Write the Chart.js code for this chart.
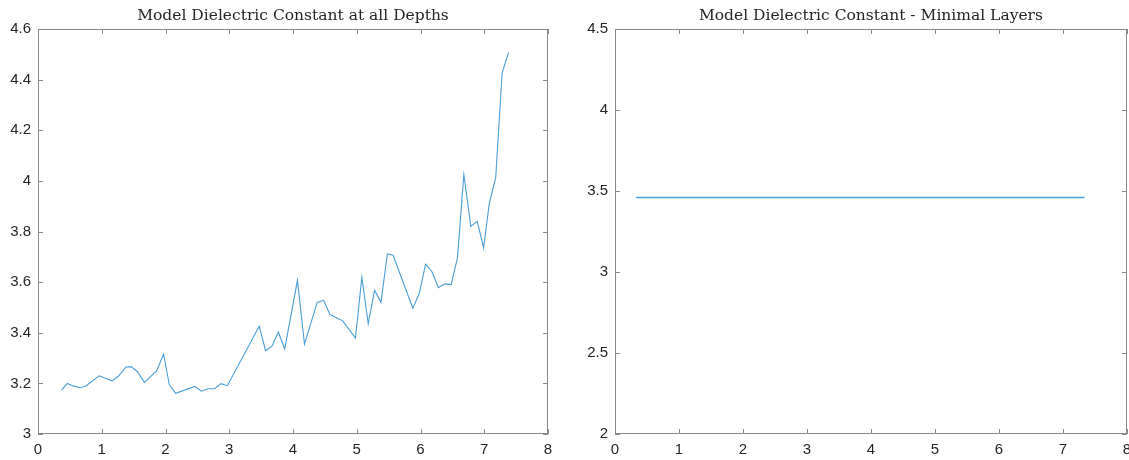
<!DOCTYPE html>
<html>
<head>
<meta charset="utf-8">
<script src="https://cdn.jsdelivr.net/npm/chart.js@4/dist/chart.umd.min.js"></script>
<style>
  html, body { margin: 0; padding: 0; background: #fff; }
  body { width: 1129px; height: 460px; position: relative; overflow: hidden; }
  .wrap { position: absolute; top: 0; height: 460px; }
</style>
</head>
<body>
<div class="wrap" style="left:0;width:564px;"><canvas id="c1"></canvas></div>
<div class="wrap" style="left:577px;width:561px;"><canvas id="c2"></canvas></div>
<script>
// ---- Data ----
const depthAll = [0.37,0.46,0.55,0.66,0.75,0.96,1.16,1.26,1.38,1.46,1.56,1.67,1.86,1.97,2.06,2.16,2.46,2.56,2.67,2.77,2.87,2.97,3.47,3.57,3.67,3.77,3.87,4.07,4.18,4.38,4.48,4.58,4.78,4.98,5.08,5.18,5.28,5.38,5.48,5.57,5.88,5.98,6.08,6.18,6.28,6.38,6.48,6.58,6.68,6.79,6.89,6.99,7.08,7.18,7.28,7.38];
const dielectricAll = [3.173,3.200,3.190,3.183,3.190,3.230,3.210,3.228,3.265,3.266,3.246,3.204,3.249,3.315,3.194,3.161,3.188,3.169,3.179,3.179,3.199,3.191,3.426,3.329,3.347,3.403,3.336,3.607,3.355,3.520,3.528,3.472,3.447,3.379,3.619,3.436,3.568,3.520,3.711,3.706,3.497,3.555,3.671,3.641,3.578,3.593,3.590,3.696,4.024,3.820,3.840,3.736,3.912,4.013,4.426,4.507];
const depthMin = [0.33, 7.34];
const dielectricMin = [3.46, 3.46];

const xTicks = [0,1,2,3,4,5,6,7,8];
const yTicksLeft = [3,3.2,3.4,3.6,3.8,4,4.2,4.4,4.6];
const yTicksRight = [2,2.5,3,3.5,4,4.5];

const titleLeft = 'Model Dielectric Constant at all Depths';
const titleRight = 'Model Dielectric Constant - Minimal Layers';

// ---- Styling ----
const LINE_COLOR = '#4a9ed8';
const AXIS_COLOR = '#8a8a8a';
const TEXT_COLOR = '#262626';
const TICK_FONT = { family: '"Liberation Sans", Arial, sans-serif', size: 15 };

const boxPlugin = {
  id: 'matlabBox',
  afterDraw(chart, args, opts) {
    const { ctx, chartArea: a, scales } = chart;
    ctx.save();
    ctx.strokeStyle = AXIS_COLOR;
    ctx.lineWidth = 1;
    ctx.strokeRect(Math.round(a.left) + 0.5, Math.round(a.top) + 0.5,
                   Math.round(a.right - a.left) - 1, Math.round(a.bottom - a.top) - 1);
    const L = 5;
    ctx.beginPath();
    scales.x.ticks.forEach(t => {
      const px = Math.round(scales.x.getPixelForValue(t.value)) + 0.5;
      ctx.moveTo(px, a.bottom); ctx.lineTo(px, a.bottom - L);
      ctx.moveTo(px, a.top); ctx.lineTo(px, a.top + L);
    });
    scales.y.ticks.forEach(t => {
      const py = Math.round(scales.y.getPixelForValue(t.value)) + 0.5;
      ctx.moveTo(a.left, py); ctx.lineTo(a.left + L, py);
      ctx.moveTo(a.right, py); ctx.lineTo(a.right - L, py);
    });
    ctx.stroke();
    // title
    ctx.fillStyle = TEXT_COLOR;
    ctx.font = '15.5px "DejaVu Serif", "Liberation Serif", serif';
    ctx.textAlign = 'center';
    ctx.textBaseline = 'alphabetic';
    ctx.fillText(opts.text, (a.left + a.right) / 2, a.top - 9);
    ctx.restore();
  }
};

function makeChart(id, xs, ys, yTicks, title, padRight, lw) {
  const pts = xs.map((x, i) => ({ x: x, y: ys[i] }));
  return new Chart(document.getElementById(id), {
    type: 'line',
    data: { datasets: [{ data: pts, borderColor: LINE_COLOR, borderWidth: lw, pointRadius: 0, tension: 0, fill: false }] },
    options: {
      responsive: true,
      maintainAspectRatio: false,
      animation: false,
      layout: { padding: { top: 29, right: padRight, left: 0, bottom: 0 } },
      plugins: { legend: { display: false }, tooltip: { enabled: false }, title: { display: false }, matlabBox: { text: title } },
      scales: {
        x: {
          type: 'linear', min: xTicks[0], max: xTicks[xTicks.length - 1],
          afterBuildTicks: s => { s.ticks = xTicks.map(v => ({ value: v })); },
          afterFit: s => { s.height = 26; },
          grid: { display: false, drawTicks: false },
          border: { display: false },
          ticks: { color: TEXT_COLOR, font: TICK_FONT, padding: 7, maxRotation: 0, autoSkip: false, callback: v => String(v) }
        },
        y: {
          type: 'linear', min: yTicks[0], max: yTicks[yTicks.length - 1],
          afterBuildTicks: s => { s.ticks = yTicks.map(v => ({ value: v })); },
          afterFit: s => { s.width = 38; },
          grid: { display: false, drawTicks: false },
          border: { display: false },
          ticks: { color: TEXT_COLOR, font: TICK_FONT, padding: 7, autoSkip: false, callback: v => String(v) }
        }
      }
    },
    plugins: [boxPlugin]
  });
}

makeChart('c1', depthAll, dielectricAll, yTicksLeft, titleLeft, 16, 1.1);
makeChart('c2', depthMin, dielectricMin, yTicksRight, titleRight, 3, 1.4);
</script>
</body>
</html>
